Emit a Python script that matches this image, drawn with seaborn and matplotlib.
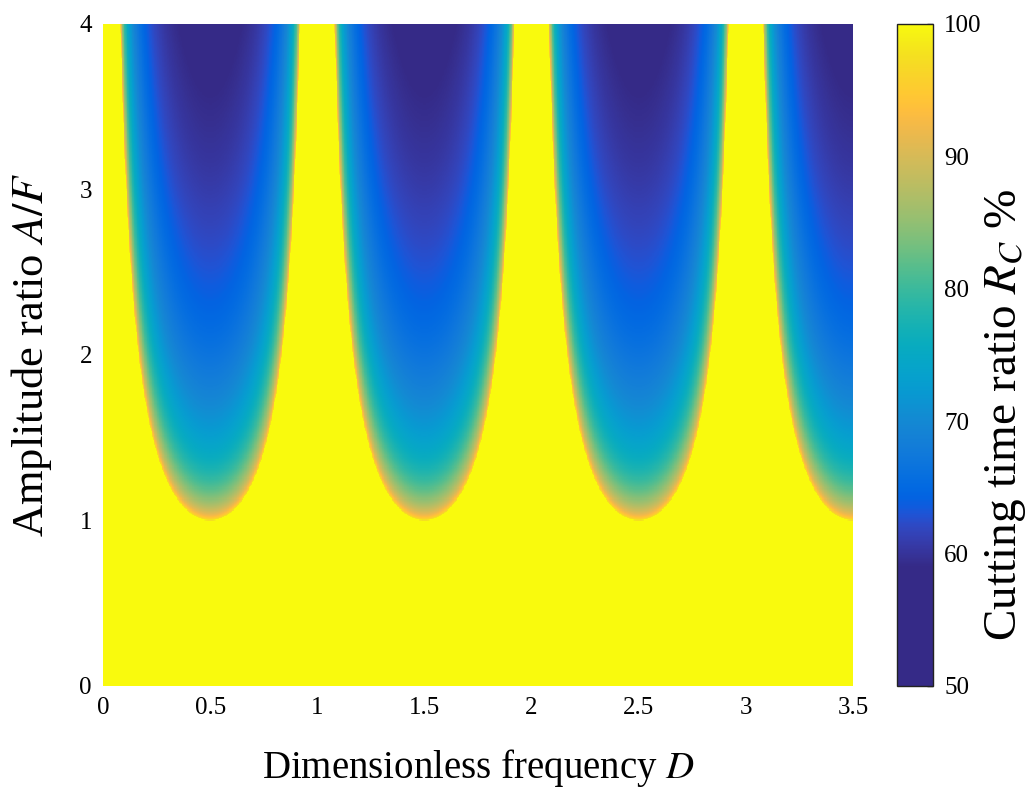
import numpy as np
import pandas as pd
import matplotlib
matplotlib.use("Agg")
import matplotlib.pyplot as plt
from matplotlib.colors import LinearSegmentedColormap
import seaborn as sns

# ---- chart description (axis ranges, ticks, labels) ----
d_range = [0.0, 3.5]           # dimensionless frequency D
af_range = [0.0, 4.0]          # amplitude ratio A/F
x_ticks = [0, 0.5, 1, 1.5, 2, 2.5, 3, 3.5]
x_ticklabels = ["0", "0.5", "1", "1.5", "2", "2.5", "3", "3.5"]
y_ticks = [0, 1, 2, 3, 4]
y_ticklabels = ["0", "1", "2", "3", "4"]
cbar_ticks = [50, 60, 70, 80, 90, 100]
cbar_range = [50, 100]
navy_until = 59                # values below this are shown in the darkest colour
x_label = "Dimensionless frequency $D$"
y_label = "Amplitude ratio $A/F$"
cbar_label = "Cutting time ratio $R_C$ %"

# grid resolution (cells)
nx, ny = 1050, 600

# ---- kinematic model of the cutting-time ratio ----
# tool path z(t) = F t + (A/2) sin(2 pi D t); the tool cuts while it is ahead of
# the path of the previous revolution: F + A sin(pi D) cos(phase) > 0
D = (np.arange(nx) + 0.5) * (d_range[1] - d_range[0]) / nx + d_range[0]
AF = (np.arange(ny) + 0.5) * (af_range[1] - af_range[0]) / ny + af_range[0]
u = AF[:, None] * np.abs(np.sin(np.pi * D[None, :]))
with np.errstate(divide="ignore"):
    x = np.where(u > 0, 1.0 / u, np.inf)
R = np.where(x >= 1, 100.0, 100.0 * np.arccos(-np.clip(x, -1, 1)) / np.pi)

df = pd.DataFrame(R, index=AF, columns=D)

# ---- parula-like colormap ----
parula = np.array([
[0.2081,0.1663,0.5292],[0.2116,0.1898,0.5777],[0.2123,0.2138,0.6270],[0.2081,0.2386,0.6771],
[0.1959,0.2645,0.7279],[0.1707,0.2919,0.7792],[0.1253,0.3242,0.8303],[0.0591,0.3598,0.8683],
[0.0117,0.3875,0.8820],[0.0060,0.4086,0.8828],[0.0165,0.4266,0.8786],[0.0329,0.4430,0.8720],
[0.0498,0.4586,0.8641],[0.0629,0.4737,0.8554],[0.0723,0.4887,0.8467],[0.0779,0.5040,0.8384],
[0.0793,0.5200,0.8312],[0.0749,0.5375,0.8263],[0.0641,0.5570,0.8240],[0.0488,0.5772,0.8228],
[0.0343,0.5966,0.8199],[0.0265,0.6137,0.8135],[0.0239,0.6287,0.8038],[0.0231,0.6418,0.7913],
[0.0228,0.6535,0.7768],[0.0267,0.6642,0.7607],[0.0384,0.6743,0.7436],[0.0590,0.6838,0.7254],
[0.0843,0.6928,0.7062],[0.1133,0.7015,0.6859],[0.1453,0.7098,0.6646],[0.1801,0.7177,0.6424],
[0.2178,0.7250,0.6193],[0.2586,0.7317,0.5954],[0.3022,0.7376,0.5712],[0.3482,0.7424,0.5473],
[0.3953,0.7459,0.5244],[0.4420,0.7481,0.5033],[0.4871,0.7491,0.4840],[0.5300,0.7491,0.4661],
[0.5709,0.7485,0.4494],[0.6099,0.7473,0.4337],[0.6473,0.7456,0.4188],[0.6834,0.7435,0.4044],
[0.7184,0.7411,0.3905],[0.7525,0.7384,0.3768],[0.7858,0.7356,0.3633],[0.8185,0.7327,0.3498],
[0.8507,0.7299,0.3360],[0.8824,0.7274,0.3217],[0.9139,0.7258,0.3063],[0.9450,0.7261,0.2886],
[0.9739,0.7314,0.2666],[0.9938,0.7455,0.2403],[0.9990,0.7653,0.2164],[0.9955,0.7861,0.1967],
[0.9880,0.8066,0.1794],[0.9789,0.8271,0.1633],[0.9697,0.8481,0.1475],[0.9626,0.8705,0.1309],
[0.9589,0.8949,0.1132],[0.9598,0.9218,0.0948],[0.9661,0.9514,0.0755],[0.9763,0.9831,0.0538]])
f0 = (navy_until - cbar_range[0]) / (cbar_range[1] - cbar_range[0])
nodes = [(0.0, parula[0])] + [(f0 + (1 - f0) * i / (len(parula) - 1), parula[i])
                              for i in range(len(parula))]
nodes[-1] = (1.0, (0.976, 0.98, 0.05))
cmap = LinearSegmentedColormap.from_list("parula_navy", nodes, N=512)

# ---- figure ----
sns.set_theme(style="white")
plt.rcParams["font.family"] = ["Liberation Serif", "DejaVu Serif"]
plt.rcParams["mathtext.fontset"] = "stix"
plt.rcParams["text.color"] = "black"

fig = plt.figure(figsize=(10.36, 7.94), dpi=100)
ax = fig.add_axes([103 / 1036, 1 - 686 / 794, 750 / 1036, 662 / 794])
cax = fig.add_axes([897 / 1036, 1 - 686 / 794, 36 / 1036, 662 / 794])

sns.heatmap(df, ax=ax, cbar_ax=cax, cmap=cmap, vmin=cbar_range[0], vmax=cbar_range[1],
            xticklabels=False, yticklabels=False, rasterized=True,
            cbar_kws={"ticks": cbar_ticks})
ax.invert_yaxis()

ax.set_xticks([(v - d_range[0]) / (d_range[1] - d_range[0]) * nx for v in x_ticks])
ax.set_xticklabels(x_ticklabels, fontsize=18, color="black")
ax.set_yticks([(v - af_range[0]) / (af_range[1] - af_range[0]) * ny for v in y_ticks])
ax.set_yticklabels(y_ticklabels, fontsize=18, rotation=0, color="black")
ax.tick_params(axis="both", length=0, pad=8)
ax.set_xlabel(x_label, fontsize=28, labelpad=20, color="black")
ax.set_ylabel(y_label, fontsize=32, labelpad=18, color="black")

cb = ax.collections[0].colorbar
cb.outline.set_edgecolor("#222222")
cb.outline.set_linewidth(1.0)
cax.tick_params(axis="y", direction="in", length=4, width=1, right=True, left=False,
                labelsize=18, pad=8, colors="#222222", labelcolor="black")
cb.set_label(cbar_label, fontsize=34, color="black")
cax.yaxis.set_label_coords(2.4, 0.41)

fig.savefig("out.png", dpi=100)
